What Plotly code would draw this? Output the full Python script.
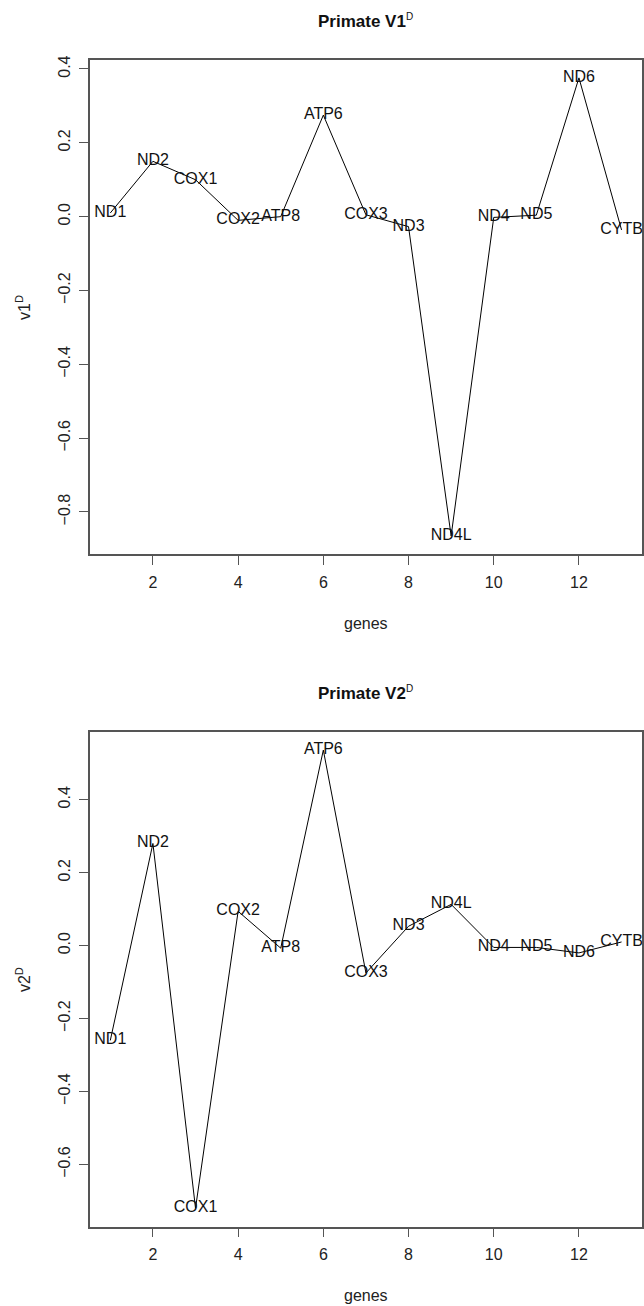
import plotly.graph_objects as go

genes = ["ND1", "ND2", "COX1", "COX2", "ATP8", "ATP6", "COX3",
         "ND3", "ND4L", "ND4", "ND5", "ND6", "CYTB"]
gene_index = list(range(1, len(genes) + 1))
v1 = [0.01, 0.15, 0.10, -0.01, 0.00, 0.275, 0.005,
      -0.027, -0.865, -0.002, 0.004, 0.376, -0.036]
v2 = [-0.26, 0.28, -0.72, 0.094, -0.007, 0.536, -0.075,
      0.053, 0.113, -0.005, -0.005, -0.02, 0.01]
v1_ticks = [-0.8, -0.6, -0.4, -0.2, 0.0, 0.2, 0.4]
v2_ticks = [-0.6, -0.4, -0.2, 0.0, 0.2, 0.4]
x_ticks = [2, 4, 6, 8, 10, 12]

W, H = 644, 1306
FONT = "Liberation Sans, Arial, Helvetica, sans-serif"
AXC = "#555555"


def rng(vals):
    lo, hi = min(vals), max(vals)
    pad = (hi - lo) * 0.04
    return [lo - pad, hi + pad]


def py(px):
    return 1 - px / H


fig = go.Figure()
panels = [
    ("", v1, v1_ticks, (55.7, 552.0), "Primate V1", "v1"),
    ("2", v2, v2_ticks, (730.0, 1226.3), "Primate V2", "v2"),
]

for suf, vals, ticks, (top, bot), title, ylab in panels:
    fig.add_trace(go.Scatter(
        x=gene_index, y=vals, text=genes, mode="lines+text",
        textposition="middle center",
        line=dict(color="black", width=1),
        textfont=dict(family=FONT, size=16, color="#111111"),
        cliponaxis=False, hoverinfo="skip", showlegend=False,
        xaxis="x" + suf, yaxis="y" + suf,
    ))
    common = dict(showline=True, mirror=True, linecolor=AXC, linewidth=1.5,
                  ticks="outside", ticklen=9, tickwidth=1.2, tickcolor=AXC,
                  showgrid=False, zeroline=False)
    fig.update_layout(**{
        "xaxis" + suf: dict(domain=[90 / W, 643 / W], range=[0.52, 13.48],
                            tickvals=x_ticks,
                            ticktext=[str(t) for t in x_ticks],
                            anchor="y" + suf,
                            tickfont=dict(family=FONT, size=16, color="#222222"),
                            ticklabelstandoff=4, **common),
        "yaxis" + suf: dict(domain=[py(bot), py(top)], range=rng(vals),
                            tickvals=ticks,
                            ticktext=[f"{t:.1f}".replace("-", "\u2212") for t in ticks],
                            tickangle=-90, anchor="x" + suf,
                            tickfont=dict(family=FONT, size=16, color="#222222"),
                            ticklabelstandoff=3, **common),
    })
    fig.add_annotation(text="<b>" + title + "</b><sup><span style='font-size:10px'>D</span></sup>",
                       xref="paper", yref="paper",
                       x=366.5 / W, y=py(top - 39), showarrow=False,
                       xanchor="center", yanchor="middle",
                       font=dict(family=FONT, size=17, color="#111111"))
    fig.add_annotation(text=ylab + "<sup><span style='font-size:11px'>D</span></sup>",
                       xref="paper", yref="paper",
                       x=23 / W, y=py((top + bot) / 2), showarrow=False,
                       textangle=-90, xanchor="center", yanchor="middle",
                       font=dict(family=FONT, size=16, color="#222222"))
    fig.add_annotation(text="genes", xref="paper", yref="paper",
                       x=366.5 / W, y=py(bot + 69), showarrow=False,
                       xanchor="center", yanchor="middle",
                       font=dict(family=FONT, size=16, color="#222222"))

fig.update_layout(width=W, height=H, margin=dict(l=0, r=0, t=0, b=0),
                  paper_bgcolor="white", plot_bgcolor="white")
fig.write_html("out.html")
